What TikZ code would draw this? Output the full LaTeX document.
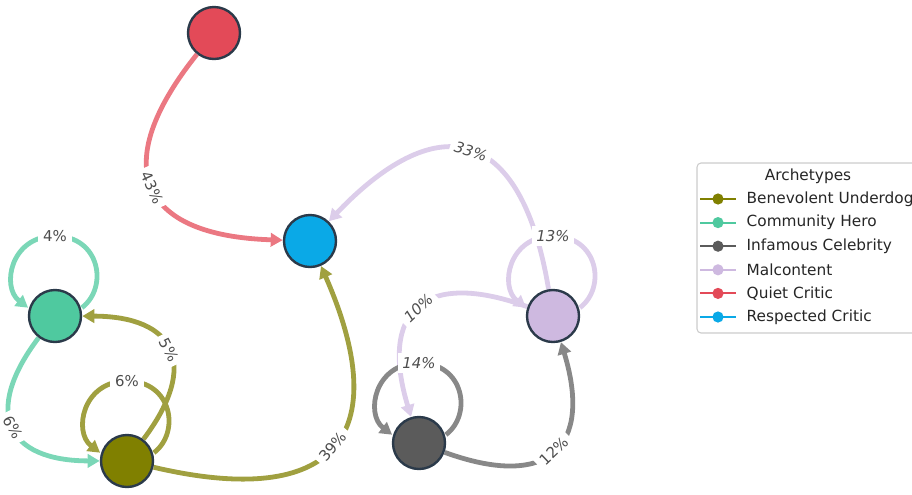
\documentclass[tikz,border=0pt]{standalone}
\usepackage{fontspec}
\setmainfont{DejaVu Sans}
\usetikzlibrary{arrows.meta}
\usetikzlibrary{backgrounds}

\definecolor{bucol}{HTML}{808000}
\definecolor{chcol}{HTML}{4FC99F}
\definecolor{iccol}{HTML}{5B5B5B}
\definecolor{mccol}{HTML}{CEB9E0}
\definecolor{qccol}{HTML}{E34A58}
\definecolor{rccol}{HTML}{0AA9E7}
\definecolor{buedge}{HTML}{A0A040}
\definecolor{chedge}{HTML}{7BD7B7}
\definecolor{icedge}{HTML}{888888}
\definecolor{mcedge}{HTML}{DCCDEA}
\definecolor{qcedge}{HTML}{EB7882}
\definecolor{rim}{HTML}{2B3A4A}
\definecolor{pctgrey}{HTML}{4D4D4D}
\definecolor{keyrim}{HTML}{CCCCCC}

\begin{document}
\begin{tikzpicture}[x=0.75pt, y=-0.75pt,
  archnode/.style={circle, draw=rim, line width=1.8pt, minimum size=39pt,
                   inner sep=0pt, outer sep=1pt},
  flow/.style={line width=3.6pt, -{Triangle[length=9pt,width=10pt]}},
  pct/.style={font=\fontsize{11.2}{13}\selectfont, text=pctgrey, fill=white,
              inner sep=3.5pt, sloped},
  pcti/.style={pct, font=\fontsize{11.2}{13}\selectfont\itshape},
  looppct/.style={pct, sloped=false},
  looppcti/.style={pcti, sloped=false},
  keytext/.style={font=\fontsize{11.5}{14}\selectfont, text=black!85},
  keyline/.style={line width=1.5pt}]
  \useasboundingbox (0,0) rectangle (912,494);

  % archetypes
  \node[archnode, fill=qccol] (qc) at (214,33) {};
  \node[archnode, fill=rccol] (rc) at (310,241) {};
  \node[archnode, fill=chcol] (ch) at (55,316) {};
  \node[archnode, fill=mccol] (mc) at (553,316) {};
  \node[archnode, fill=iccol] (ic) at (419,443) {};
  \node[archnode, fill=bucol] (bu) at (127,461) {};

  % transitions
  \begin{scope}[on background layer]
    \draw[flow, qcedge] (qc) .. controls (107.3,166.3) and (139.3,235.7) .. node[pct] (p43) {43\%} (rc);
    \draw[flow, buedge] (bu) .. controls (334.7,509.7) and (395.7,436.3) .. node[pct] (p39) {39\%} (rc);
    \draw[flow, mcedge] (mc) .. controls (522,129) and (441,104) .. node[pcti] (p33) {33\%} (rc);
    \draw[flow, mcedge] (mc) .. controls (423.7,269) and (379,311.3) .. node[pcti] (p10) {10\%} (ic);
    \draw[flow, icedge] (ic) .. controls (548.3,490) and (593,447.7) .. node[pct] (p12) {12\%} (mc);
    \draw[flow, buedge] (bu) .. controls (199.7,364.7) and (175.7,316.3) .. node[pct] (p5) {5\%} (ch);
    \draw[flow, chedge] (ch) .. controls (-17.7,412.3) and (6.3,460.7) .. node[pct] (p6) {6\%} (bu);
    % self loops
    \draw[flow, chedge, shift={(ch)}] (26.9,-8.3) .. controls (53.8,-28.8) and (44.8,-80) .. (0,-80)
      node[looppct] (p4) {4\%} .. controls (-44.8,-80) and (-53.8,-28.8) .. (-26.9,-8.3);
    \draw[flow, mcedge, shift={(mc)}] (26.9,-8.3) .. controls (53.8,-28.8) and (44.8,-80) .. (0,-80)
      node[looppcti] (p13) {13\%} .. controls (-44.8,-80) and (-53.8,-28.8) .. (-26.9,-8.3);
    \draw[flow, icedge, shift={(ic)}] (26.9,-8.3) .. controls (53.8,-28.8) and (44.8,-80) .. (0,-80)
      node[looppcti] (p14) {14\%} .. controls (-44.8,-80) and (-53.8,-28.8) .. (-26.9,-8.3);
    \draw[flow, buedge, shift={(bu)}] (26.9,-8.3) .. controls (53.8,-28.8) and (44.8,-80) .. (0,-80)
      node[looppct] (p6b) {6\%} .. controls (-44.8,-80) and (-53.8,-28.8) .. (-26.9,-8.3);
  \end{scope}

  % legend
  \draw[rounded corners=3pt, draw=keyrim, fill=white, line width=0.8pt] (697,163) rectangle (940,333);
  \node[keytext] (keytitle) at (808,176) {Archetypes};
  \foreach \col/\name [count=\i] in {bucol/Benevolent Underdog, chcol/Community Hero,
      iccol/Infamous Celebrity, mccol/Malcontent, qccol/Quiet Critic, rccol/Respected Critic} {
    \pgfmathsetmacro\yy{175.4+23.6*\i}
    \draw[keyline, \col] (700,\yy) -- (736,\yy);
    \fill[\col] (718,\yy) circle (4.2pt);
    \node[keytext, anchor=west] (key\i) at (742,\yy) {\name};
  }
\end{tikzpicture}
\end{document}
